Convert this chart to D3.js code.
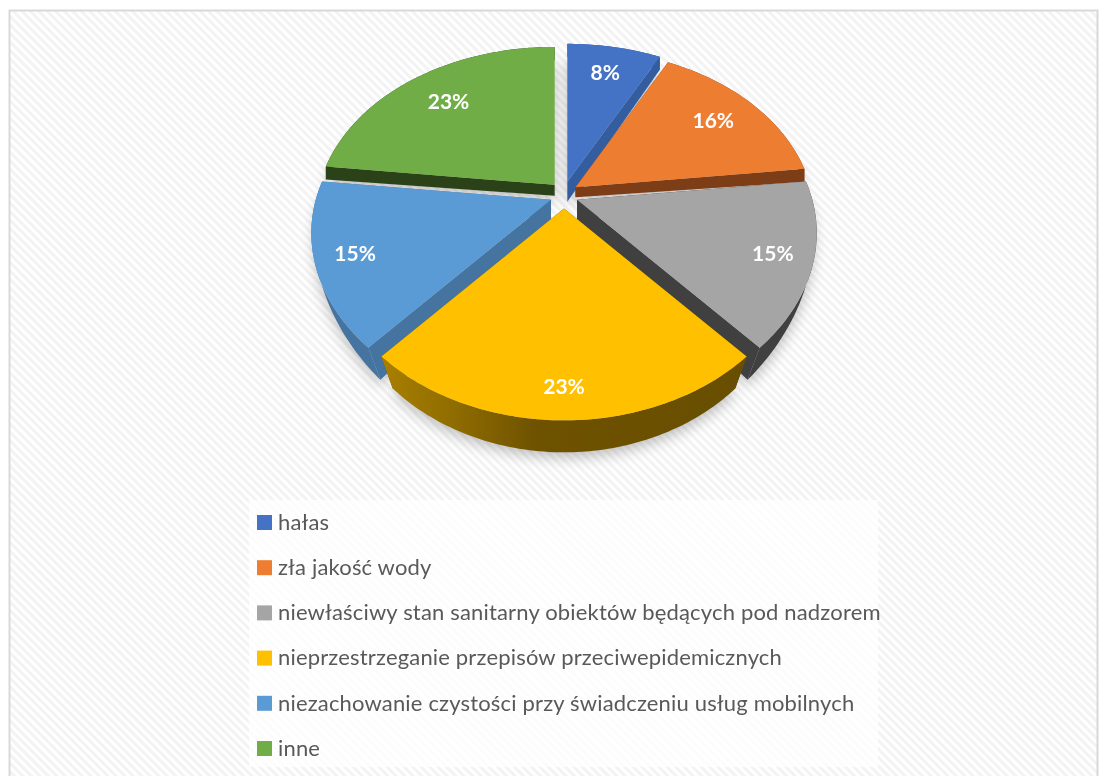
<!DOCTYPE html>
<html>
<head>
<meta charset="utf-8">
<script src="https://cdn.jsdelivr.net/npm/d3@7"></script>
<style>
  html, body { margin: 0; padding: 0; background: #fff; overflow: hidden; }
  svg { display: block; filter: blur(0.45px); }
  text { font-family: Lato, "Open Sans", sans-serif; }
</style>
</head>
<body>
<div id="chart"></div>
<script>
const categories = [
  "hałas",
  "zła jakość wody",
  "niewłaściwy stan sanitarny obiektów będących pod nadzorem",
  "nieprzestrzeganie przepisów przeciwepidemicznych",
  "niezachowanie czystości przy świadczeniu usług mobilnych",
  "inne"
]
// they round to the printed labels
const values = [7.6, 15.6, 15.2, 23.2, 15.2, 23.2]
const topColors = ["#4472c4", "#ed7d31", "#a5a5a5", "#ffc000", "#5b9bd5", "#70ad47"]
const sideColors = ["#345d9f", "#7c3d17", "#404040", "#6b5000", "#44749f", "#2b4219"]

const WIDTH = 1108, HEIGHT = 776
const CX = 564, CY = 195     // pie centre on screen
const RX = 247, RY = 234     // radius in the pie plane
const TILT = 0.714           // squash of the plane
const PERSP_Y = 0.211        // near edge bigger than far edge
const PERSP_X = 0.2
const WIDEST = 0.25          // where the pie is widest, as part of the radius
const EXPLODE_X = 14, EXPLODE_Y = 13.6
const LABEL_R = [0.78, 0.77, 0.84, 0.87, 0.84, 0.75]
const APEX_DEPTH = [20, 10, 20, 20, 20, 11]  // wall height at the tip of each slice
const drawOrder = [0, 5, 1, 2, 4, 3]

const svg = d3.select("#chart").append("svg")
  .attr("width", WIDTH)
  .attr("height", HEIGHT)

const defs = svg.append("defs")

const hatch = defs.append("pattern")
  .attr("id", "hatch")
  .attr("width", 6).attr("height", 6)
  .attr("patternUnits", "userSpaceOnUse")
  .attr("patternTransform", "rotate(-45)")
hatch.append("rect").attr("width", 6).attr("height", 6).attr("fill", "#ffffff")
hatch.append("rect").attr("width", 3).attr("height", 6).attr("fill", "#f3f3f3")

const blur = defs.append("filter")
  .attr("id", "soft")
  .attr("x", "-20%").attr("y", "-20%").attr("width", "140%").attr("height", "140%")
blur.append("feGaussianBlur").attr("stdDeviation", 7)

const yellowWall = defs.append("linearGradient")
  .attr("id", "yellowWall")
  .attr("gradientUnits", "userSpaceOnUse")
  .attr("x1", 382).attr("x2", 747).attr("y1", 0).attr("y2", 0)
yellowWall.selectAll("stop")
  .data([[0, "#a87f00"], [0.2, "#8f6c00"], [0.42, "#6e5200"], [1, "#684e00"]])
  .join("stop")
  .attr("offset", d => d[0])
  .attr("stop-color", d => d[1])

// background and frame
svg.append("rect").attr("width", WIDTH).attr("height", HEIGHT).attr("fill", "#fff")
svg.append("rect")
  .attr("x", 9.5).attr("y", 10.5)
  .attr("width", WIDTH - 20).attr("height", HEIGHT)
  .attr("fill", "url(#hatch)")
  .attr("stroke", "#d9d9d9")
  .attr("stroke-width", 2)

const slices = d3.pie().sort(null).value(d => d)(values)

// pie plane -> screen, f is the part of the radius
const project = (a, f) => {
  const u = f * Math.sin(a)
  const v = -f * Math.cos(a)
  return [
    RX * u / (1 - PERSP_X * (v - WIDEST)),
    RY * v * TILT / (1 - PERSP_Y * v)
  ]
}

const depth = d3.scaleLinear().domain([195, 345]).range([13, 32]).clamp(true)
const drift = d3.scaleLinear().domain([195, 345]).range([0, 0.062]).clamp(true)

// point on the lower face under a point of the top face
const lower = p => [p[0] - (p[0] - CX) * drift(p[1]), p[1] + depth(p[1])]

function outline(d) {
  const mid = (d.startAngle + d.endAngle) / 2
  const ox = EXPLODE_X * Math.sin(mid)
  const oy = -EXPLODE_Y * Math.cos(mid)
  const step = Math.PI / 180
  const angles = d3.range(d.startAngle, d.endAngle, step).concat(d.endAngle)
  const arc = angles.map(a => {
    const p = project(a, 1)
    return [CX + ox + p[0], CY + oy + p[1]]
  })
  return {
    apex: [CX + ox, CY + oy],
    apexLow: [CX + ox, CY + oy + APEX_DEPTH[d.index]],
    arc
  }
}

const line = d3.line()
const shapes = slices.map(outline)

// soft shadow under the pie
svg.append("g")
  .attr("filter", "url(#soft)")
  .attr("opacity", 0.38)
  .selectAll("path")
  .data(shapes)
  .join("path")
  .attr("d", s => line([s.apexLow].concat(s.arc.map(lower)).map(p => [p[0], p[1] + 5])) + "Z")
  .attr("fill", "#555")

const pie = svg.append("g")

drawOrder.forEach(i => {
  const s = shapes[i]
  const g = pie.append("g")
  const sideFill = i === 3 ? "url(#yellowWall)" : sideColors[i]
  const first = s.arc[0], last = s.arc[s.arc.length - 1]

  g.append("path")
    .attr("d", line([s.apex, first, lower(first), s.apexLow]) + "Z")
    .attr("fill", sideColors[i])
  g.append("path")
    .attr("d", line([s.apex, last, lower(last), s.apexLow]) + "Z")
    .attr("fill", sideColors[i])
  g.append("path")
    .attr("d", line(s.arc.concat(s.arc.map(lower).reverse())) + "Z")
    .attr("fill", sideFill)
  g.append("path")
    .attr("d", line([s.apex].concat(s.arc)) + "Z")
    .attr("fill", topColors[i])
})

// value labels
svg.append("g")
  .selectAll("text")
  .data(slices)
  .join("text")
  .attr("transform", (d, i) => {
    const mid = (d.startAngle + d.endAngle) / 2
    const p = project(mid, LABEL_R[i])
    return `translate(${shapes[i].apex[0] + p[0]},${shapes[i].apex[1] + p[1]})`
  })
  .attr("text-anchor", "middle")
  .attr("dy", "0.35em")
  .attr("fill", "#fff")
  .attr("font-size", 21)
  .attr("font-weight", 700)
  .text(d => Math.round(d.data) + "%")

// legend
svg.append("rect")
  .attr("x", 249).attr("y", 500)
  .attr("width", 629).attr("height", 267)
  .attr("fill", "#fff")
  .attr("fill-opacity", 0.75)

const rowY = d3.scalePoint().domain(categories).range([522, 748])

const rows = svg.append("g")
  .selectAll("g")
  .data(categories)
  .join("g")
  .attr("transform", d => `translate(0,${rowY(d)})`)

rows.append("rect")
  .attr("x", 257).attr("y", -7)
  .attr("width", 15).attr("height", 15)
  .attr("fill", (d, i) => topColors[i])

rows.append("text")
  .attr("x", 278)
  .attr("dy", "0.35em")
  .attr("fill", "#595959")
  .attr("font-size", 22)
  .attr("letter-spacing", 0.17)
  .text(d => d)
</script>
</body>
</html>
